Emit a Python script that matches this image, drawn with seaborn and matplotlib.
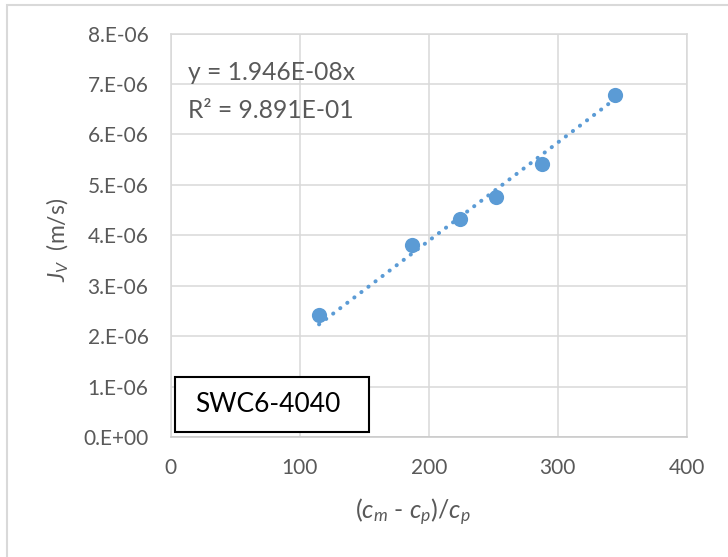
import numpy as np
import pandas as pd
import matplotlib
matplotlib.use("Agg")
import matplotlib.pyplot as plt
import seaborn as sns
from matplotlib.patches import Rectangle

# ---- data ----
x_ratio = [115, 187, 224.5, 252, 287.5, 344.5]
jv = [2.42e-6, 3.81e-6, 4.32e-6, 4.77e-6, 5.41e-6, 6.79e-6]
slope = 1.946e-8
x_ticks = [0, 100, 200, 300, 400]
x_tick_labels = ["0", "100", "200", "300", "400"]
y_ticks = [0, 1e-6, 2e-6, 3e-6, 4e-6, 5e-6, 6e-6, 7e-6, 8e-6]
y_tick_labels = ["0.E+00", "1.E-06", "2.E-06", "3.E-06", "4.E-06",
                 "5.E-06", "6.E-06", "7.E-06", "8.E-06"]
sample_label = "SWC6-4040"
eq_text = "y = 1.946E-08x"
r2_text = "R² = 9.891E-01"
x_label = r"$(c_m$ - $c_p)/c_p$"
y_label = r"$J_V$  (m/s)"

BLUE = "#5B9BD5"
TXT = "#595959"
GRID = "#D9D9D9"

sns.set_theme(style="white")
plt.rcParams['font.family'] = ['Lato', 'DejaVu Sans']
plt.rcParams['mathtext.fontset'] = 'custom'
plt.rcParams['mathtext.rm'] = 'Lato'
plt.rcParams['mathtext.it'] = 'Lato:italic'

fig = plt.figure(figsize=(7.28, 5.57), dpi=100)
W, H = 728, 557
L, R, T, B = 170.7, 686.7, 33.5, 437.3
ax = fig.add_axes([L / W, 1 - B / H, (R - L) / W, (B - T) / H])

df = pd.DataFrame({"x": x_ratio, "jv": jv})
sns.scatterplot(data=df, x="x", y="jv", ax=ax, s=120, color=BLUE,
                edgecolor=BLUE, linewidth=0, zorder=3)

xs = np.array([min(x_ratio), max(x_ratio)])
trend = pd.DataFrame({"x": xs, "y": slope * xs})
sns.lineplot(data=trend, x="x", y="y", ax=ax, color=BLUE, lw=2.9,
             linestyle=(0, (0.05, 2.15)), dash_capstyle='round', zorder=4)

ax.set_xlim(0, 400)
ax.set_ylim(0, 8e-6)
ax.set_xticks(x_ticks, labels=x_tick_labels)
ax.set_yticks(y_ticks, labels=y_tick_labels)
ax.set_xlabel("")
ax.set_ylabel("")
ax.grid(True, color=GRID, lw=1.1)
ax.set_axisbelow(True)
for s in ax.spines.values():
    s.set_color(GRID)
    s.set_linewidth(1.1)
ax.spines['bottom'].set_color("#C8C8C8")
ax.tick_params(length=0, labelcolor=TXT, labelsize=15)
ax.tick_params(axis='y', pad=16)
ax.tick_params(axis='x', pad=15)

fig.text(413 / W, 1 - 512 / H, x_label, ha='center', va='center',
         fontsize=18, color=TXT)
fig.text(58 / W, 1 - 240 / H, y_label, ha='center', va='center',
         rotation=90, fontsize=16.5, color=TXT)

fig.text(188 / W, 1 - 73 / H, eq_text, ha='left', va='center',
         fontsize=17.7, color=TXT)
fig.text(188 / W, 1 - 110 / H, r2_text, ha='left', va='center',
         fontsize=17.7, color=TXT)

# sample label box
fig.patches.append(Rectangle((175 / W, 1 - 432 / H), 194 / W, 55 / H,
                             transform=fig.transFigure, facecolor="white",
                             edgecolor="black", lw=1.5, zorder=5))
fig.text(195 / W, 1 - 405 / H, sample_label, ha='left', va='center',
         fontsize=19, color="black", zorder=6)

# outer chart border
fig.patches.append(Rectangle((7 / W, -0.1), 1.2, 1 - 5 / H + 0.1,
                             transform=fig.transFigure, fill=False,
                             edgecolor=GRID, lw=1.5, zorder=0))

fig.savefig("out.png", dpi=100)
